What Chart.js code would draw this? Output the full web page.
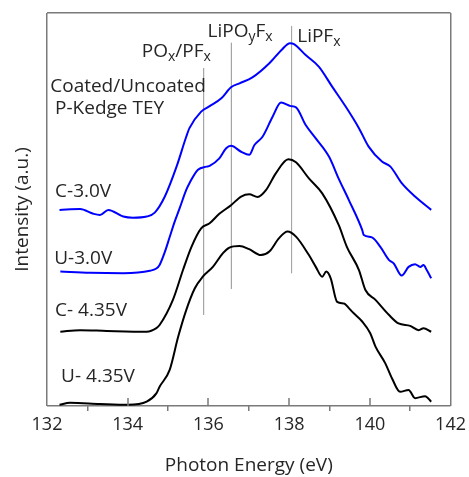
<!DOCTYPE html>
<html>
<head>
<meta charset="utf-8">
<script src="https://cdn.jsdelivr.net/npm/chart.js@4/dist/chart.umd.min.js"></script>
<style>
  html, body { margin: 0; padding: 0; background: #fff; }
  #wrap { position: relative; width: 469px; height: 477px; }
</style>
</head>
<body>
<div id="wrap"><canvas id="chart"></canvas></div>
<script>
// P K-edge TEY spectra, intensity in arbitrary units (offset stacked)
const c30Energy = [132.31, 132.82, 133.15, 133.31, 133.52, 133.89, 134.13, 134.47, 134.67, 134.92, 135.21, 135.45, 135.53, 135.82, 136.03, 136.32, 136.56, 136.77, 137.09, 137.51, 137.83, 138.02, 138.12, 138.41, 138.74, 139.07, 139.40, 139.73, 139.97, 140.30, 140.51, 140.79, 141.12, 141.52];
const c30Intensity = [4.99, 5.01, 4.89, 4.86, 4.99, 4.82, 4.79, 4.82, 4.92, 5.33, 6.09, 6.85, 7.07, 7.49, 7.63, 7.83, 8.11, 8.21, 8.36, 8.72, 9.08, 9.23, 9.21, 8.93, 8.63, 8.12, 7.62, 7.07, 6.60, 6.22, 6.09, 5.67, 5.33, 4.99];

const u30Energy = [132.33, 133.07, 133.89, 134.55, 134.71, 134.79, 134.92, 135.04, 135.16, 135.29, 135.45, 135.53, 135.74, 135.95, 136.03, 136.27, 136.44, 136.56, 136.81, 137.01, 137.14, 137.34, 137.59, 137.80, 138.04, 138.17, 138.41, 138.66, 138.99, 139.23, 139.48, 139.81, 139.85, 140.05, 140.26, 140.47, 140.59, 140.79, 140.96, 141.12, 141.25, 141.33, 141.41, 141.52];
const u30Intensity = [3.42, 3.39, 3.38, 3.44, 3.50, 3.59, 3.92, 4.30, 4.68, 5.04, 5.50, 5.67, 6.01, 6.09, 6.11, 6.30, 6.56, 6.62, 6.47, 6.39, 6.64, 6.85, 7.36, 7.72, 7.63, 7.60, 7.15, 6.81, 6.34, 5.78, 5.24, 4.48, 4.35, 4.29, 4.05, 3.72, 3.63, 3.32, 3.54, 3.61, 3.54, 3.59, 3.46, 3.25];

const c435Energy = [132.33, 132.82, 133.48, 134.47, 134.71, 134.79, 135.12, 135.37, 135.58, 135.82, 136.03, 136.27, 136.56, 136.81, 137.01, 137.22, 137.43, 137.67, 137.98, 138.17, 138.49, 138.82, 139.23, 139.43, 139.73, 139.89, 140.14, 140.47, 140.71, 141.00, 141.21, 141.33, 141.52];
const c435Intensity = [1.89, 1.93, 1.91, 1.89, 1.98, 2.06, 2.70, 3.46, 4.05, 4.52, 4.65, 4.89, 5.11, 5.33, 5.39, 5.32, 5.50, 5.92, 6.28, 6.20, 5.79, 5.41, 4.60, 4.05, 3.46, 2.95, 2.70, 2.32, 2.10, 2.04, 1.93, 1.98, 1.89];

const u435Energy = [132.31, 132.57, 133.31, 134.01, 134.47, 134.71, 134.79, 135.04, 135.25, 135.45, 135.66, 135.86, 136.11, 136.36, 136.52, 136.77, 137.01, 137.30, 137.51, 137.75, 137.96, 138.17, 138.49, 138.66, 138.82, 138.92, 139.03, 139.19, 139.36, 139.48, 139.56, 139.81, 140.01, 140.14, 140.38, 140.55, 140.75, 140.96, 141.12, 141.37, 141.52];
const u435Intensity = [0.03, 0.08, 0.05, 0.03, 0.11, 0.32, 0.49, 0.92, 1.76, 2.44, 2.99, 3.29, 3.54, 3.89, 4.03, 4.07, 3.99, 3.84, 3.93, 4.27, 4.44, 4.31, 3.84, 3.54, 3.29, 3.42, 3.25, 2.65, 2.61, 2.49, 2.40, 2.15, 1.85, 1.51, 1.09, 0.70, 0.36, 0.41, 0.20, 0.25, 0.11];

// reference lines for the species
const markerEnergy = [135.88, 136.57, 138.06];
const markerTop = [8.60, 9.24, 9.67];
const markerBottom = [2.32, 2.98, 3.38];

// x ticks every 1 eV, labels on the even ones
const xTickValues = [132, 133, 134, 135, 136, 137, 138, 139, 140, 141, 142];
const yFrameValues = [0, 10];

// text annotations (energy, intensity anchor; left aligned)
const annotations = [
  { x: 132.08, y: 8.12, parts: [['Coated/Uncoated']] },
  { x: 132.20, y: 7.58, parts: [['P-Kedge TEY']] },
  { x: 134.35, y: 9.01, parts: [['PO'], ['x', 1], ['/PF'], ['x', 1]] },
  { x: 135.98, y: 9.52, parts: [['LiPO'], ['y', 1], ['F'], ['x', 1]] },
  { x: 138.20, y: 9.39, parts: [['LiPF'], ['x', 1]] },
  { x: 132.20, y: 5.45, parts: [['C-3.0V']] },
  { x: 132.18, y: 3.74, parts: [['U-3.0V']] },
  { x: 132.20, y: 2.42, parts: [['C- 4.35V']] },
  { x: 132.35, y: 0.74, parts: [['U- 4.35V']] }
];

const FONT = '"Open Sans", "Noto Sans", sans-serif';
const TEXT = '#262626';
const AXIS = '#7a7a7a';

function toPoints(xs, ys) {
  return xs.map((x, i) => ({ x: x, y: ys[i] }));
}

function curve(label, xs, ys, color) {
  return {
    label: label,
    data: toPoints(xs, ys),
    borderColor: color,
    borderWidth: 2,
    pointRadius: 0,
    cubicInterpolationMode: 'monotone',
    fill: false,
    clip: false
  };
}

const datasets = [
  curve('C-3.0V', c30Energy, c30Intensity, '#0000ff'),
  curve('U-3.0V', u30Energy, u30Intensity, '#0000ff'),
  curve('C- 4.35V', c435Energy, c435Intensity, '#000000'),
  curve('U- 4.35V', u435Energy, u435Intensity, '#000000')
];
markerEnergy.forEach((e, i) => {
  datasets.push({
    label: 'marker' + i,
    data: [{ x: e, y: markerTop[i] }, { x: e, y: markerBottom[i] }],
    borderColor: '#a6a6a6',
    borderWidth: 1,
    pointRadius: 0,
    fill: false
  });
});

// inward major ticks and the text labels
const overlay = {
  id: 'overlay',
  afterDraw(chart) {
    const ctx = chart.ctx;
    const a = chart.chartArea;
    const xs = chart.scales.x, ys = chart.scales.y;
    const B = Math.round(a.bottom);
    ctx.save();
    ctx.fillStyle = AXIS;
    [134, 136, 138, 140].forEach(v => {
      const px = Math.round(xs.getPixelForValue(v));
      ctx.fillRect(px - 0.75, B - 8, 1.5, 8);
    });

    ctx.fillStyle = TEXT;
    ctx.textBaseline = 'middle';
    ctx.textAlign = 'left';
    annotations.forEach(an => {
      let px = xs.getPixelForValue(an.x);
      const py = ys.getPixelForValue(an.y);
      an.parts.forEach(p => {
        const sub = p[1] === 1;
        ctx.font = (sub ? '14px ' : '19px ') + FONT;
        ctx.fillText(p[0], px, sub ? py + 5 : py);
        px += ctx.measureText(p[0]).width;
      });
    });
    ctx.restore();
  }
};

const isEdgeX = v => v === 132 || v === 142;

new Chart(document.getElementById('chart'), {
  type: 'line',
  data: { datasets: datasets },
  options: {
    responsive: true,
    maintainAspectRatio: false,
    animation: false,
    events: [],
    layout: { padding: { top: 13, right: 16, bottom: 0, left: 0 } },
    plugins: {
      legend: { display: false },
      tooltip: { enabled: false }
    },
    scales: {
      x: {
        type: 'linear',
        min: 132,
        max: 142,
        afterBuildTicks: scale => {
          scale.ticks = xTickValues.map(v => ({ value: v }));
        },
        afterFit: scale => { scale.height = 71; },
        grid: {
          display: true,
          drawOnChartArea: true,
          tickLength: 5,
          lineWidth: 1.5,
          tickWidth: 1.5,
          color: c => (isEdgeX(c.tick.value) ? AXIS : 'rgba(0,0,0,0)'),
          tickColor: c => (c.tick.value % 2 === 1 ? AXIS : 'rgba(0,0,0,0)')
        },
        border: { display: false },
        ticks: {
          color: TEXT,
          padding: 3,
          maxRotation: 0,
          autoSkip: false,
          font: { family: FONT, size: 18 },
          callback: v => (v % 2 === 0 ? v : '')
        },
        title: {
          display: true,
          text: 'Photon Energy (eV)',
          color: TEXT,
          padding: 0,
          font: { family: FONT, size: 19 }
        }
      },
      y: {
        min: 0,
        max: 10,
        afterBuildTicks: scale => {
          scale.ticks = yFrameValues.map(v => ({ value: v }));
        },
        afterFit: scale => { scale.width = 47; },
        grid: {
          display: true,
          drawOnChartArea: true,
          drawTicks: false,
          lineWidth: 1.5,
          color: AXIS
        },
        border: { display: false },
        ticks: { display: false },
        title: {
          display: true,
          text: 'Intensity (a.u.)',
          color: TEXT,
          padding: { top: 11, bottom: 0 },
          font: { family: FONT, size: 19 }
        }
      }
    }
  },
  plugins: [overlay]
});
</script>
</body>
</html>
